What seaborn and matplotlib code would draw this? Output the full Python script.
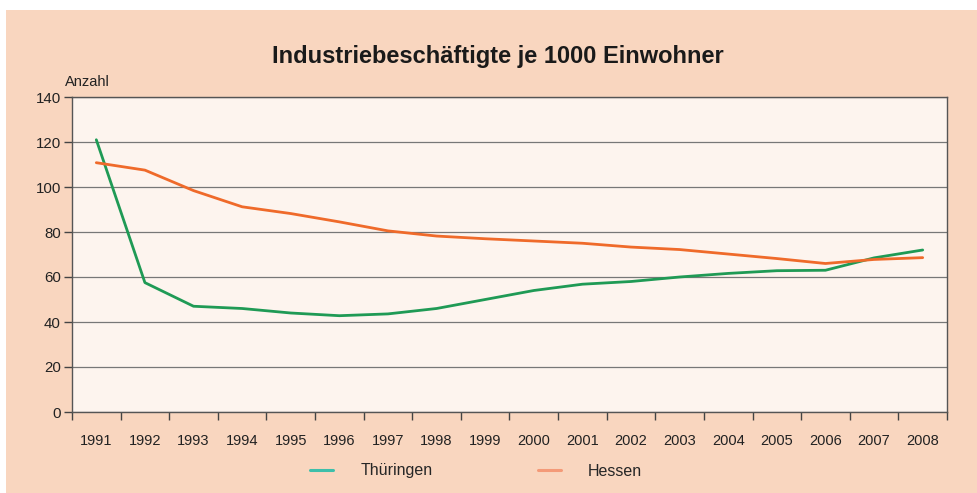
import numpy as np
import pandas as pd
import matplotlib
matplotlib.use("Agg")
import matplotlib.pyplot as plt
from matplotlib.lines import Line2D
from matplotlib.patches import Rectangle
import seaborn as sns

years = list(range(1991, 2009))
thueringen = [121, 57.5, 47, 46, 44, 42.8, 43.6, 46, 50, 54, 56.8, 58, 60, 61.6, 62.8, 63, 68.5, 72]
hessen = [110.8, 107.5, 98.4, 91.2, 88.2, 84.5, 80.5, 78.2, 77, 76, 75, 73.3, 72.2, 70.2, 68.2, 66, 67.8, 68.6]
series_names = ["Thüringen", "Hessen"]
y_ticks = [0, 20, 40, 60, 80, 100, 120, 140]

df = pd.DataFrame({
    "Jahr": years * 2,
    "Wert": thueringen + hessen,
    "Land": [series_names[0]] * len(years) + [series_names[1]] * len(years),
})

sns.set_theme(style="white")
plt.rcParams["font.family"] = ["Liberation Sans", "DejaVu Sans"]

fig = plt.figure(figsize=(9.78, 4.93), dpi=100, facecolor="white")
fig.patches.append(Rectangle((6 / 978, 0), 1 - 6 / 978, 483 / 493, transform=fig.transFigure,
                             facecolor="#f9d6bf", edgecolor="none", zorder=-10))

ax = fig.add_axes([72 / 978, 81 / 493, 875 / 978, 315 / 493])
ax.set_facecolor("#fdf4ee")

palette = {"Thüringen": "#1f9a55", "Hessen": "#ef6a2a"}
sns.lineplot(data=df, x="Jahr", y="Wert", hue="Land", palette=palette, ax=ax,
             linewidth=2.0, legend=False)

ax.set_xlim(1990.5, 2008.5)
ax.set_ylim(0, 140)
ax.set_yticks(y_ticks)
ax.set_xticks(years)
ax.set_xticks([y - 0.5 for y in years] + [2008.5], minor=True)
ax.tick_params(axis="x", which="major", length=0, pad=16, labelsize=10.5, colors="#222222")
ax.tick_params(axis="x", which="minor", length=6, width=1, color="#444444", direction="out", bottom=True)
ax.tick_params(axis="y", which="major", length=6, width=1, color="#444444", direction="out",
               left=True, labelsize=10.8, labelcolor="#222222", pad=2)
ax.set_xlabel("")
ax.set_ylabel("")
ax.grid(axis="y", color="#777777", linewidth=0.9)
ax.set_axisbelow(True)
for side in ["left", "bottom", "right", "top"]:
    ax.spines[side].set_visible(True)
    ax.spines[side].set_color("#555555")
    ax.spines[side].set_linewidth(1.0)

fig.text(498 / 978, 1 - 57 / 493, "Industriebeschäftigte je 1000 Einwohner",
         ha="center", va="center", fontsize=17, fontweight="bold", color="#1a1a1a")
fig.text(65 / 978, 1 - 82 / 493, "Anzahl", ha="left", va="center", fontsize=10.5, color="#222222")

handles = [Line2D([], [], color="#3dbfaa", linewidth=2.2),
           Line2D([], [], color="#f49a78", linewidth=2.2)]
fig.legend(handles, series_names, loc="center left", bbox_to_anchor=(310 / 978, 22 / 493),
           ncol=2, frameon=False, fontsize=11.5, handlelength=1.45, handletextpad=1.7,
           columnspacing=6.6, borderpad=0, borderaxespad=0)

fig.savefig("out.png", dpi=100, facecolor=fig.get_facecolor())
